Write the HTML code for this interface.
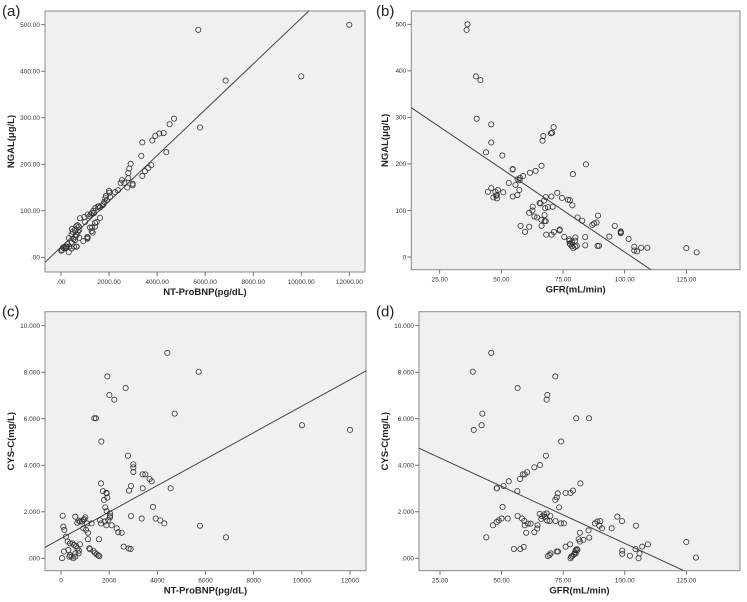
<!DOCTYPE html>
<html><head><meta charset="utf-8"><style>
html,body{margin:0;padding:0;background:#fff;}
svg{display:block;font-family:"Liberation Sans",sans-serif;}
</style></head><body>
<svg id="fig" width="747" height="602" viewBox="0 0 747 602" xmlns="http://www.w3.org/2000/svg"></svg>
<script>
// Panel (a): NT-ProBNP vs NGAL
const aX=[12000,5714,10000,6852,5784,4702,4522,4272,4092,3925,3800,3384,3343,4383,3759,3634,3495,3384,2899,2843,2802,2802,2982,2982,2760,2635,2483,2538,2372,2247,1997,2011,2039,1900,1872,1845,1803,1734,1776,1581,1525,1428,1345,1290,1234,1179,1110,1373,1623,1623,1484,1415,1415,1290,1207,1096,1276,1318,1110,1096,929,763,999,971,791,749,707,763,693,638,582,652,596,582,513,444,444,485,458,333,347,277,208,83,42,14,139,208,319,638,652,541,444,236];
const aY=[500,489,389,380,279,298,286,267,266,261,251,247,218,226,198,192,185,175,201,191,181,170,158,155,150,160,160,166,144,140,143,139,130,123,132,127,119,112,115,110,109,106,100,95,92,88,92,95,107,85,76,66,74,64,64,44,56,53,42,40,35,42,76,87,84,66,55,59,69,67,59,48,44,37,39,32,49,55,61,41,23,28,23,21,16,14,19,20,11,23,23,23,19,23];
const aFit=[22,0.0492];
const aXTicks=[0,2000,4000,6000,8000,10000,12000];
const aXLabels=[".00","2000.00","4000.00","6000.00","8000.00","10000.00","12000.00"];
const aYTicks=[0,100,200,300,400,500];
const aYLabels=[".00","100.00","200.00","300.00","400.00","500.00"];

// Panel (b): GFR vs NGAL
const bX=[36.3,35.9,39.7,41.5,40,45.9,45.9,43.8,50.4,54.6,53,55.7,56.6,57.4,57.6,58.8,61.6,63.9,66.3,66.7,67,70.1,70.6,71.2,84.3,79,72.7,74.6,77,77.8,78.8,70.3,68,67.3,67.8,68.9,70.8,65.5,65.9,62.7,62.6,61.3,63.4,64.5,66.2,67.5,67.5,68,66.3,57.8,61.3,59.6,68.2,70.4,71.3,73.6,73.7,75.5,77.5,77.6,77.7,78,78.6,79.2,80,79.9,80,80.6,78.6,80.9,82.8,86.9,87.6,88.6,89.2,84,84,89,89.6,93.8,96,98.4,98.5,98.4,101.6,103.9,103.9,105,106.7,109.2,125,129.2,47.6,44.6,45.9,48.6,46.8,47.9,48.2,50.8,54.6,56.5,57.3,54.6,48.2];
const bY=[500,488,388,380,297,285,246,225,218,188,159,155,167,165,170,174,181,185,196,250,260,266,267,279,199,178,138,127,123,122,111,130,129,121,105,107,108,116,115,108,100,95,87,85,80,90,77,77,67,67,65,54,48,48,54,57,59,43,38,35,29,27,23,19,22,35,42,24,32,85,78,69,72,74,89,43,25,24,24,44,67,55,53,51,39,22,14,12,20,20,19,10,140,140,148,144,128,132,133,139,130,133,144,189,126];
const bFit=[369.2,-3.585];
const bXTicks=[25,50,75,100,125];
const bXLabels=["25.00","50.00","75.00","100.00","125.00"];
const bYTicks=[0,100,200,300,400,500];
const bYLabels=["0","100","200","300","400","500"];

// Panel (c): NT-ProBNP vs CYS-C
const cX=[12000,10006,5716,4415,4720,4553,5771,6851,1924,2685,2007,2214,1384,1453,1675,2782,3003,3003,3003,3391,3502,3681,3765,3391,1661,1744,1882,1896,1785,1924,1841,2907,2823,3820,2906,3350,3931,4124,4291,1896,2035,2035,2035,1619,1661,1827,1882,1965,2104,2311,2381,2519,2602,2810,2892,595,733,678,1010,969,927,872,789,1079,1273,1038,1121,1121,927,69,97,138,208,277,374,485,540,623,678,748,789,595,125,42,305,374,443,512,346,1204,1342,1412,1481,1550,1592,1176,1578,595,733];
const cY=[5.52,5.72,8.02,8.83,6.22,3.01,1.40,0.90,7.82,7.32,7.02,6.82,6.02,6.02,5.02,4.41,4.04,3.91,3.71,3.61,3.61,3.41,3.31,3.01,3.22,2.89,2.82,2.79,2.51,2.61,2.19,3.11,2.91,2.21,1.82,1.71,1.71,1.63,1.50,2.03,1.93,1.83,1.76,1.63,1.50,1.58,1.42,1.65,1.42,1.29,1.12,1.10,0.50,0.42,0.40,1.79,1.62,1.53,1.76,1.68,1.65,1.58,1.58,1.50,1.50,1.22,1.10,0.82,1.29,1.83,1.36,1.22,0.93,0.72,0.64,0.64,0.57,0.53,0.43,0.33,0.60,0.21,0.29,0.01,0.36,0.14,0.07,0.00,0.07,0.39,0.32,0.24,0.17,0.13,0.09,0.43,0.82,0.07,0.21];
const cFit=[0.851,0.000569];
const cXTicks=[0,2000,4000,6000,8000,10000,12000];
const cXLabels=["0","2000","4000","6000","8000","10000","12000"];
const cYTicks=[0,2,4,6,8,10];
const cYLabels=[".000","2.000","4.000","6.000","8.000","10.000"];

// Panel (d): GFR vs CYS-C
const dX=[45.8,38.3,56.5,71.8,68.6,68.3,42.2,41.9,38.7,80.3,85.5,74.2,68,65.6,63.3,60.4,59.4,58.6,57.5,52.9,50.8,48,48.1,56.4,72.8,72.4,71.8,76,78,79,82,73.4,50.4,65.5,67.3,68.3,66.5,67.6,66.1,69.8,71.9,68.5,69.5,61.8,64.6,64.5,63.3,56.5,58.3,59.2,60.7,59.4,60,52.5,50,48.8,48,46.5,43.8,74.1,75.3,87.9,88.9,90.1,89.7,90.8,85.3,81.8,83.2,81.3,81.8,85.6,97,98.9,104.6,94.7,99,99,102.1,104.4,106,105.6,107.1,109.4,125,128.9,55,57.6,59,76,77.8,78.3,78.8,79.4,79.8,80.1,80.5,78,68.8,69.5,69.9,72.4,72.9,80.1,80.8];
const dY=[8.83,8.02,7.32,7.82,7.02,6.82,6.22,5.72,5.52,6.02,6.02,5.02,4.41,4.01,3.91,3.70,3.61,3.61,3.41,3.31,3.11,3.01,3.01,2.89,2.79,2.62,2.51,2.81,2.81,2.91,3.22,2.19,2.21,1.91,1.89,1.93,1.81,1.78,1.69,1.82,1.60,1.62,1.60,1.49,1.42,1.28,1.12,1.82,1.71,1.61,1.49,1.42,1.10,1.71,1.71,1.63,1.56,1.42,0.90,1.50,1.50,1.50,1.58,1.60,1.40,1.29,1.20,1.10,0.79,0.82,0.72,0.89,1.79,1.60,1.40,1.29,0.33,0.19,0.11,0.40,0.21,0.00,0.50,0.60,0.70,0.03,0.40,0.40,0.49,0.50,0.60,0.07,0.11,0.17,0.26,0.34,0.40,0.00,0.10,0.14,0.21,0.29,0.29,0.21,0.36];
const dFit=[5.538,-0.04895];
const dXTicks=[25,50,75,100,125];
const dXLabels=["25.00","50.00","75.00","100.00","125.00"];
const dYTicks=[0,2,4,6,8,10];
const dYLabels=[".000","2.000","4.000","6.000","8.000","10.000"];

const NS="http://www.w3.org/2000/svg";
const svg=document.getElementById('fig');
function mk(tag,attrs,parent){const e=document.createElementNS(NS,tag);for(const k in attrs)e.setAttribute(k,attrs[k]);(parent||svg).appendChild(e);return e;}

function panel(p){
  const g=mk('g',{});
  
  
  const sx=v=>p.px0+(v-p.dx0)*(p.px1-p.px0)/(p.dx1-p.dx0);
  const sy=v=>p.py0+(v-p.dy0)*(p.py1-p.py0)/(p.dy1-p.dy0);
  const bg=mk('rect',{x:p.L,y:p.T,width:p.R-p.L,height:p.B-p.T,fill:'#f0f0f0',stroke:'#8a8a8a','stroke-width':1},g);
  
  
  const lab=mk('text',{x:p.labX,y:p.T+5,'font-size':15,fill:'#222'},g);
  lab.textContent='('+p.id+')';
  
  
  p.xt.forEach((v,i)=>{
    const x=sx(v);
    mk('line',{x1:x,x2:x,y1:p.B,y2:p.B+4,stroke:'#555','stroke-width':0.8},g);
    const t=mk('text',{x:x,y:p.B+12,'font-size':6.5,'text-anchor':'middle',fill:'#333'},g);
    t.textContent=p.xl[i];
    
    
  });
  p.yt.forEach((v,i)=>{
    const y=sy(v);
    mk('line',{x1:p.L-4,x2:p.L,y1:y,y2:y,stroke:'#555','stroke-width':0.8},g);
    const t=mk('text',{x:p.L-5,y:y+2.3,'font-size':6.5,'text-anchor':'end',fill:'#333'},g);
    t.textContent=p.yl[i];
    
    
  });
  const xt=mk('text',{x:(p.L+p.R)/2,y:p.B+23,'font-size':9.5,'font-weight':'bold','text-anchor':'middle',fill:'#222'},g);
  xt.textContent=p.xTitle;
  
  
  const cy=(p.T+p.B)/2;
  const yt=mk('text',{x:p.ytX,y:cy,'font-size':9.5,'font-weight':'bold','text-anchor':'middle',fill:'#222',transform:'rotate(-90 '+p.ytX+' '+cy+')'},g);
  yt.textContent=p.yTitle;
  
  
  const clip=mk('clipPath',{id:'clip'+p.id},g);
  mk('rect',{x:p.L,y:p.T,width:p.R-p.L,height:p.B-p.T},clip);
  const xa=p.dx0-(p.px0-p.L)*(p.dx1-p.dx0)/(p.px1-p.px0);
  const xb=p.dx0+(p.R-p.px0)*(p.dx1-p.dx0)/(p.px1-p.px0);
  const fl=mk('line',{x1:sx(xa),y1:sy(p.fit[0]+p.fit[1]*xa),x2:sx(xb),y2:sy(p.fit[0]+p.fit[1]*xb),stroke:'#444','stroke-width':1,'clip-path':'url(#clip'+p.id+')'},g);
  
  
  p.xs.forEach((v,i)=>{
    const c=mk('circle',{cx:sx(v),cy:sy(p.ys[i]),r:2.6,fill:'none',stroke:'#333','stroke-width':0.8},g);
    
    
  });
}

panel({id:'a',labX:2,ytX:14,L:45,R:365,T:11,B:272,px0:61,px1:349.3,dx0:0,dx1:12000,py0:257.3,py1:24.7,dy0:0,dy1:500,
  xs:aX,ys:aY,fit:aFit,xt:aXTicks,xl:aXLabels,yt:aYTicks,yl:aYLabels,xTitle:'NT-ProBNP(pg/dL)',yTitle:'NGAL(μg/L)'});
panel({id:'b',labX:376,ytX:388,L:411.3,R:740,T:11,B:269.7,px0:439.7,px1:686.3,dx0:25,dx1:125,py0:257,py1:24.3,dy0:0,dy1:500,
  xs:bX,ys:bY,fit:bFit,xt:bXTicks,xl:bXLabels,yt:bYTicks,yl:bYLabels,xTitle:'GFR(mL/min)',yTitle:'NGAL(μg/L)'});
panel({id:'c',labX:2,ytX:14,L:45,R:366,T:311.7,B:570.7,px0:61,px1:350,dx0:0,dx1:12000,py0:558.3,py1:325.7,dy0:0,dy1:10,
  xs:cX,ys:cY,fit:cFit,xt:cXTicks,xl:cXLabels,yt:cYTicks,yl:cYLabels,xTitle:'NT-ProBNP(pg/dL)',yTitle:'CYS-C(mg/L)'});
panel({id:'d',labX:376,ytX:388,L:419,R:740,T:311.7,B:570.7,px0:440,px1:686.3,dx0:25,dx1:125,py0:558.3,py1:325.7,dy0:0,dy1:10,
  xs:dX,ys:dY,fit:dFit,xt:dXTicks,xl:dXLabels,yt:dYTicks,yl:dYLabels,xTitle:'GFR(mL/min)',yTitle:'CYS-C(mg/L)'});
</script>
</body></html>
